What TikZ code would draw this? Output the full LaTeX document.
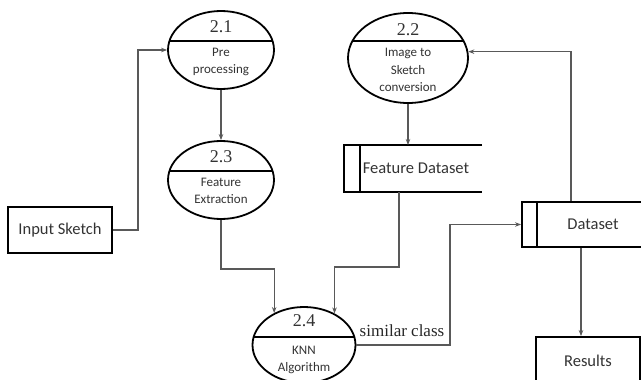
\documentclass[tikz,border=0pt]{standalone}
\usepackage{fontspec}
\setmainfont{Carlito}
\newfontfamily\numfont{Liberation Serif}
\usetikzlibrary{shapes.geometric,arrows.meta}

\begin{document}
\begin{tikzpicture}[x=1pt,y=-1pt,
  proc/.style={ellipse,draw=black,line width=1.8pt,inner sep=0pt},
  box/.style={rectangle,draw=black,line width=1.8pt,inner sep=0pt,
    text=black!80,font=\fontsize{16.5}{20}\selectfont},
  edge/.style={draw=black,line width=1.6pt},
  flow/.style={draw=black!65,line width=1.1pt,-{Stealth[length=6pt,width=4.5pt]}},
  num/.style={inner sep=0pt,text=black!80,font=\numfont\fontsize{18}{20}\selectfont},
  ptext/.style={inner sep=0pt,align=center,text=black!80,font=\fontsize{13}{17.5}\selectfont},
  lbl/.style={inner sep=0pt,text=black!85,font=\numfont\fontsize{17}{20}\selectfont}]
\useasboundingbox (0,0) rectangle (641,380);
\clip (0,0) rectangle (641,380);

% processes
\node[proc,minimum width=106pt,minimum height=78pt] (p21) at (221,50) {};
\node[proc,minimum width=120pt,minimum height=90pt] (p22) at (408,58) {};
\node[proc,minimum width=106pt,minimum height=78pt] (p23) at (221,180) {};
\node[proc,minimum width=103pt,minimum height=76pt] (p24) at (304,345) {};

% dividing lines inside the processes
\begin{scope}
  \clip (p21.center) ellipse [x radius=53pt, y radius=39pt];
  \draw[edge] (150,41) -- (300,41);
\end{scope}
\begin{scope}
  \clip (p22.center) ellipse [x radius=60pt, y radius=45pt];
  \draw[edge] (330,41) -- (490,41);
\end{scope}
\begin{scope}
  \clip (p23.center) ellipse [x radius=53pt, y radius=39pt];
  \draw[edge] (150,171) -- (300,171);
\end{scope}
\begin{scope}
  \clip (p24.center) ellipse [x radius=51.5pt, y radius=38pt];
  \draw[edge] (240,337) -- (370,337);
\end{scope}

% process labels
\node[num] (n21) at (221,27) {2.1};
\node[ptext] (t21) at (221,62) {Pre\\processing};
\node[num] (n22) at (408,30) {2.2};
\node[ptext] (t22) at (408,70) {Image to\\Sketch\\conversion};
\node[num] (n23) at (221,157) {2.3};
\node[ptext] (t23) at (221,191) {Feature\\Extraction};
\node[num] (n24) at (304,321) {2.4};
\node[ptext] (t24) at (304,360) {KNN\\Algorithm};

% external entities
\node[box,minimum width=104pt,minimum height=46pt] (inp) at (60,230) {Input Sketch};
\node[box,minimum width=104pt,minimum height=48pt] (res) at (588,361) {Results};

% data stores
\node[inner sep=0pt,outer sep=0pt,minimum width=138pt,minimum height=47pt] (fd) at (413,168.5) {};
\draw[edge] (fd.north east) -- (fd.north west) -- (fd.south west) -- (fd.south east);
\draw[edge] ([xshift=16pt]fd.north west) -- ([xshift=16pt]fd.south west);
\node[inner sep=0pt,text=black!80,font=\fontsize{16.5}{20}\selectfont] (fdt) at (416,168) {Feature Dataset};

\node[box,minimum width=142pt,minimum height=45pt] (ds) at (593,224.5) {Dataset};
\draw[edge] ([xshift=16pt]ds.north west) -- ([xshift=16pt]ds.south west);

% data flows
\coordinate (c1) at (138,0);
\draw[flow] (inp.east) -- (inp.east -| c1) -- (c1 |- p21.west) -- (p21.west);
\draw[flow] (p21.south) -- (p23.north);
\coordinate (c2) at (571,0);
\draw[flow] (ds.north -| c2) -- (c2 |- p22.6) -- (p22.6);
\draw[flow] (p22.south) -- (p22.south |- fd.north);
\coordinate (c3) at (0,269);
\draw[flow] (p23.south) -- (p23.south |- c3) -- (p24.133 |- c3) -- (p24.133);
\coordinate (c4) at (399,267);
\draw[flow] (c4 |- fd.south) -- (c4) -- (c4 -| p24.46) -- (p24.46);
\coordinate (c5) at (450,0);
\draw[flow] (p24.east) -- (p24.east -| c5) -- (c5 |- ds.west) -- (ds.west);
\node[lbl] (sc) at (402,331) {similar class};
\coordinate (c6) at (581,0);
\draw[flow] (c6 |- ds.south) -- (c6 |- res.north);
\end{tikzpicture}
\end{document}
